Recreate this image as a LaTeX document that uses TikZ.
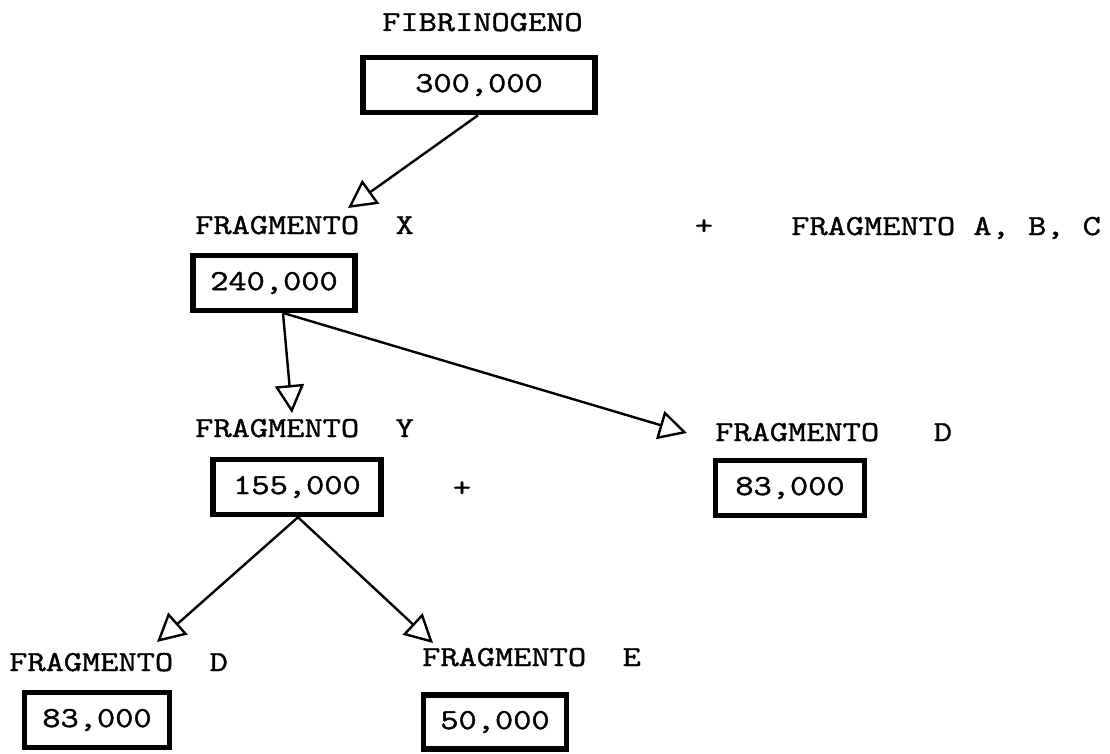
\documentclass[tikz,border=0pt]{standalone}
\usepackage{fontspec}
\newfontfamily\tw[FakeStretch=1.22, FakeBold=1.4]{Latin Modern Mono}
\usetikzlibrary{arrows.meta}
\tikzset{
  lbl/.style={anchor=base west, inner sep=0pt, font=\tw\fontsize{29}{34}\selectfont},
  plus/.style={inner sep=0pt, font=\tw\fontsize{29}{34}\selectfont},
  valbox/.style={draw, line width=5.5pt, inner sep=0pt, font=\tw\fontsize{29}{34}\selectfont},
  conn/.style={line width=2.4pt, -{Triangle[open, length=28pt, width=29pt, line width=2.4pt]}},
}
\begin{document}
\begin{tikzpicture}[x=1pt, y=-1pt]
\useasboundingbox (0,0) rectangle (1110,754);
% labels
\node[lbl] (fib) at (382,31) {FIBRINOGENO};
\node[lbl] (fx) at (195,234) {FRAGMENTO~~X};
\node[plus] (p1) at (704,227) {+};
\node[lbl] (fabc) at (791,235) {FRAGMENTO A, B, C};
\node[lbl] (fy) at (195,437) {FRAGMENTO~~Y};
\node[lbl] (fd1) at (715,441) {FRAGMENTO~~~D};
\node[plus] (p2) at (462,489) {+};
\node[lbl] (fd2) at (9,671) {FRAGMENTO~~D};
\node[lbl] (fe) at (422,666) {FRAGMENTO~~E};
% boxes
\node[valbox, minimum width=232pt, minimum height=55pt] (b300) at (479,85) {300,000};
\node[valbox, minimum width=162pt, minimum height=55pt] (b240) at (274,283) {240,000};
\node[valbox, minimum width=168pt, minimum height=55pt] (b155) at (297,487) {155,000};
\node[valbox, minimum width=149pt, minimum height=55pt] (b83r) at (790,488) {83,000};
\node[valbox, minimum width=145pt, minimum height=55pt] (b83) at (97,720) {83,000};
\node[valbox, minimum width=143pt, minimum height=54pt] (b50) at (495,722) {50,000};
% arrow tips
\coordinate (tX) at (348,208);
\coordinate (tY) at (292,413);
\coordinate (tD1) at (687,433);
\coordinate (tD2) at (157,642);
\coordinate (tE) at (433,643);
% connectors
\draw[conn] ([xshift=-1pt]b300.south) -- (tX);
\draw[conn] ([xshift=9pt]b240.south) -- (tY);
\draw[conn] ([xshift=10pt]b240.south) -- (tD1);
\draw[conn] ([xshift=1pt]b155.south) -- (tD2);
\draw[conn] ([xshift=1pt]b155.south) -- (tE);
\end{tikzpicture}
\end{document}
